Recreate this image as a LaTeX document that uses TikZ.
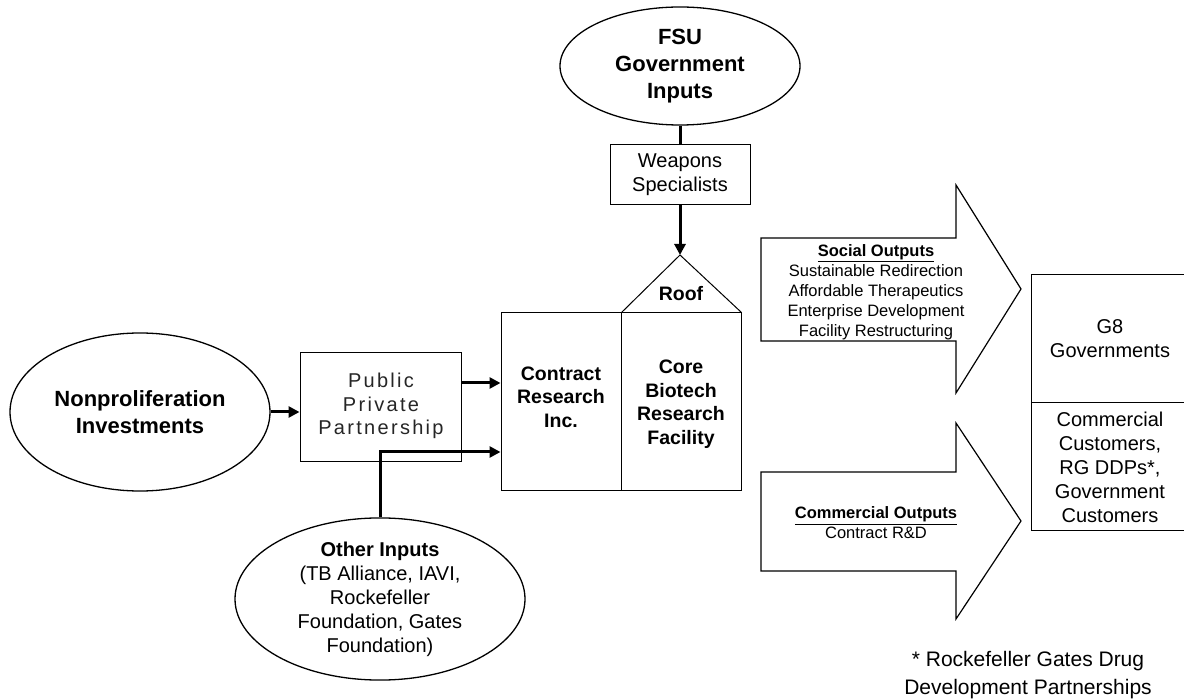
\documentclass[tikz,border=0pt]{standalone}
\usepackage{fontspec}
\setmainfont{Liberation Sans}
\newfontfamily\widefont[LetterSpace=11.5]{Liberation Sans}
\usetikzlibrary{shapes.geometric,arrows.meta}
\begin{document}
\begin{tikzpicture}[x=1pt,y=-1pt,
  oval/.style={ellipse,draw,line width=1.3pt,inner sep=0pt,align=center,fill=white},
  box/.style={rectangle,draw,line width=1pt,inner sep=0pt,fill=white},
  lbl/.style={align=center,inner sep=0pt},
  wire/.style={line width=3pt},
  arr/.style={wire,-{Triangle[length=11pt,width=11pt]}},
  block/.style={draw,line width=1.2pt,line join=miter},
  bigbold/.style={font=\fontsize{22}{27}\selectfont\bfseries},
  midbold/.style={font=\fontsize{19.5}{23.5}\selectfont\bfseries},
  plain/.style={font=\fontsize{20}{24}\selectfont},
  small/.style={font=\fontsize{16.5}{20}\selectfont}]
\useasboundingbox (0,0) rectangle (1184,700);

% ---- inputs ----
\node[oval,bigbold,minimum width=240pt,minimum height=118pt] (fsu) at (680,66)
  {FSU\\Government\\Inputs};
\node[box,plain,minimum width=140pt,minimum height=60pt,align=center] (wpn) at (680,175)
  {Weapons\\Specialists};
\node[oval,bigbold,minimum width=260pt,minimum height=158pt] (np) at (140,412)
  {Nonproliferation\\Investments};
\node[box,minimum width=161pt,minimum height=109pt] (ppp) at (380.5,407.5) {};
\node[lbl,font=\fontsize{20}{23.5}\selectfont\widefont,text=black!85] (ppptext) at (381,406)
  {Public\\Private\\Partnership};
\node[oval,plain,minimum width=290pt,minimum height=138pt] (oth) at (380,599)
  {\textbf{Other Inputs}\\(TB Alliance, IAVI,\\Rockefeller\\Foundation, Gates\\Foundation)};

% ---- facility with roof ----
\node[box,minimum width=120pt,minimum height=178pt] (crt) at (561,402) {};
\node[box,minimum width=120pt,minimum height=178pt] (core) at (681,402) {};
\coordinate (apex) at (680,255);
\draw[line width=1pt,line join=miter] (crt.north east) -- (apex) -- (core.north east);
\node[lbl,midbold] (crttext) at (561,397) {Contract\\Research\\Inc.};
\node[lbl,midbold] (coretext) at (681,404) {Core\\Biotech\\Research\\Facility};
\node[lbl,midbold] (roof) at (681,294) {Roof};

% ---- output arrows ----
\draw[block] (761,238) -- (956,238) -- (956,185) -- (1021,289) -- (956,393)
  -- (956,341) -- (761,341) -- cycle;
\node[lbl,small] (social) at (876,292)
  {\underline{\textbf{Social Outputs}}\\Sustainable Redirection\\Affordable Therapeutics\\Enterprise Development\\Facility Restructuring};
\draw[block] (761,472) -- (956,472) -- (956,423) -- (1021,521) -- (956,619)
  -- (956,571) -- (761,571) -- cycle;
\node[lbl,small] (commercial) at (876,523)
  {\underline{\textbf{Commercial Outputs}}\\Contract R\&D};

% ---- customers (box runs off the right edge) ----
\coordinate (cTL) at (1031,275);
\coordinate (cML) at (1031,403);
\coordinate (cBL) at (1031,530);
\draw[line width=1pt] (1184,275) -- (cTL) -- (cBL) -- (1184,530);
\draw[line width=1pt] (cML) -- (1184,403);
\node[lbl,plain] (g8) at (1110,339) {G8\\Governments};
\node[lbl,plain] (cust) at (1110,467)
  {Commercial\\Customers,\\RG DDPs*,\\Government\\Customers};

% ---- footnote ----
\node[lbl,font=\fontsize{21}{28}\selectfont,anchor=south] (note) at (1028,699.5)
  {* Rockefeller Gates Drug\\Development Partnerships};

% ---- connectors ----
\draw[wire] (fsu.south) -- (wpn.north);
\draw[arr] (wpn.south) -- (apex);
\draw[arr] (np.east) -- (np.east -| ppp.west);
\draw[arr] ([yshift=24.5pt]ppp.east) coordinate (pppout) -- (pppout -| crt.west);
\draw[arr] (oth.north) |- ([yshift=-50pt]crt.west);
\end{tikzpicture}
\end{document}
